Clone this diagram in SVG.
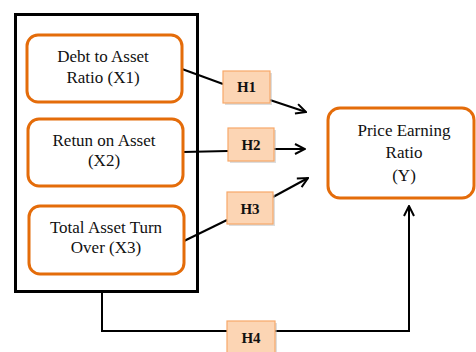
<svg xmlns="http://www.w3.org/2000/svg" width="476" height="352" viewBox="0 0 476 352">
<defs>
<style>
.var{fill:#fff;stroke:#E46C0A;stroke-width:3}
.lbl{font-family:'Liberation Serif','DejaVu Serif',serif;font-size:17px;fill:#111;text-anchor:middle}
.h{fill:#FCD5B4;stroke:#F7A869;stroke-width:1.2}
.hs{fill:#bbb;opacity:0.5}
.ht{font-family:'Liberation Serif','DejaVu Serif',serif;font-size:15px;font-weight:bold;fill:#111;text-anchor:middle}
.ln{fill:none;stroke:#000;stroke-width:2}
</style>
<marker id="arr" viewBox="0 0 12 12" refX="11" refY="6" markerWidth="12" markerHeight="12" markerUnits="userSpaceOnUse" orient="auto">
<path d="M1,1 L11,6 L1,11" fill="none" stroke="#000" stroke-width="2"/>
</marker>
</defs>
<rect width="476" height="352" fill="#fff"/>
<g id="outer-box">
<rect x="15.5" y="14.5" width="182" height="277" fill="none" stroke="#000" stroke-width="3"/>
</g>
<g id="connectors">
<line class="ln" x1="182" y1="69" x2="223" y2="84"/>
<line class="ln" x1="270" y1="100" x2="306" y2="112" marker-end="url(#arr)"/>
<line class="ln" x1="183" y1="152" x2="228" y2="151"/>
<line class="ln" x1="274" y1="149" x2="305" y2="149" marker-end="url(#arr)"/>
<line class="ln" x1="184" y1="241" x2="227" y2="220"/>
<line class="ln" x1="273" y1="197" x2="308" y2="178" marker-end="url(#arr)"/>
<polyline class="ln" points="102,292 102,331 227,331"/>
<polyline class="ln" points="275,331 409,331 409,206" marker-end="url(#arr)"/>
</g>
<g id="x1">
<rect class="var" x="27" y="35" width="155" height="67" rx="11"/>
<text class="lbl" x="103" y="62">Debt to Asset</text>
<text class="lbl" x="103" y="83">Ratio (X1)</text>
</g>
<g id="x2">
<rect class="var" x="28" y="119" width="155" height="67" rx="11"/>
<text class="lbl" x="104" y="146">Retun on Asset</text>
<text class="lbl" x="104" y="166">(X2)</text>
</g>
<g id="x3">
<rect class="var" x="29" y="206" width="155" height="68" rx="11"/>
<text class="lbl" x="106" y="233">Total Asset Turn</text>
<text class="lbl" x="106" y="253">Over (X3)</text>
</g>
<g id="y">
<rect class="var" x="328" y="108" width="146" height="90" rx="12"/>
<text class="lbl" x="404" y="136">Price Earning</text>
<text class="lbl" x="404" y="158">Ratio</text>
<text class="lbl" x="404" y="181">(Y)</text>
</g>
<g id="h1">
<rect class="hs" x="225" y="73" width="47" height="32"/>
<rect class="h" x="223" y="71" width="47" height="32"/>
<text class="ht" x="246.5" y="92">H1</text>
</g>
<g id="h2">
<rect class="hs" x="230" y="130" width="46" height="33"/>
<rect class="h" x="228" y="128" width="46" height="33"/>
<text class="ht" x="251" y="150">H2</text>
</g>
<g id="h3">
<rect class="hs" x="229" y="194" width="46" height="32"/>
<rect class="h" x="227" y="192" width="46" height="32"/>
<text class="ht" x="250" y="214">H3</text>
</g>
<g id="h4">
<rect class="hs" x="229" y="323" width="48" height="32"/>
<rect class="h" x="227" y="321" width="48" height="32"/>
<text class="ht" x="251" y="343">H4</text>
</g>
</svg>
